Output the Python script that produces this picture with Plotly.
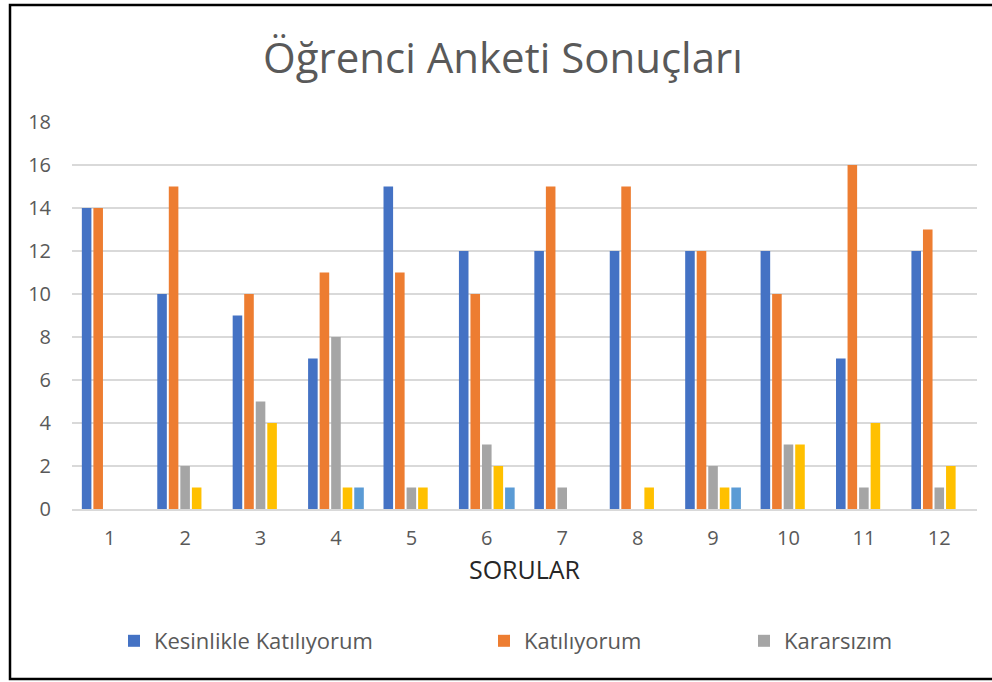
import plotly.graph_objects as go

categories = ["1", "2", "3", "4", "5", "6", "7", "8", "9", "10", "11", "12"]
kesinlikle_katiliyorum = [14, 10, 9, 7, 15, 12, 12, 12, 12, 12, 7, 12]
katiliyorum = [14, 15, 10, 11, 11, 10, 15, 15, 12, 10, 16, 13]
kararsizim = [0, 2, 5, 8, 1, 3, 1, 0, 2, 3, 1, 1]
katilmiyorum = [0, 1, 4, 1, 1, 2, 0, 1, 1, 3, 4, 2]
kesinlikle_katilmiyorum = [0, 0, 0, 1, 0, 1, 0, 0, 1, 0, 0, 0]
y_ticks = [0, 2, 4, 6, 8, 10, 12, 14, 16, 18]

FONT = "Open Sans"
series = [
    ("Kesinlikle Katılıyorum", kesinlikle_katiliyorum, "#4472C4", "legend", True),
    ("Katılıyorum", katiliyorum, "#ED7D31", "legend2", True),
    ("Kararsızım", kararsizim, "#A5A5A5", "legend3", True),
    ("Katılmıyorum", katilmiyorum, "#FFC000", "legend", False),
    ("Kesinlikle Katılmıyorum", kesinlikle_katilmiyorum, "#5B9BD5", "legend", False),
]

fig = go.Figure()
for name, vals, color, lg, show in series:
    fig.add_trace(go.Bar(x=categories, y=vals, name=name, marker_color=color,
                         marker_line_width=0, legend=lg, showlegend=show))

L, R, T, B = 72, 977, 122, 509
W, H = 992, 682
pw, ph = R - L, B - T

def px(x):
    return (x - L) / pw

def py(y):
    return (B - y) / ph

legend_common = dict(orientation="h", yanchor="middle", xanchor="left",
                     font=dict(family=FONT, size=22, color="#595959"),
                     bgcolor="rgba(0,0,0,0)", itemwidth=30)

fig.update_layout(
    width=W, height=H,
    margin=dict(l=L, r=W - R, t=T, b=H - B),
    paper_bgcolor="white", plot_bgcolor="white",
    barmode="group", bargap=0.235, bargroupgap=0.17,
    title=dict(text="Öğrenci Anketi Sonuçları", x=0.507, xanchor="center",
               y=1 - 58 / H, yanchor="middle",
               font=dict(family=FONT, size=42, color="#595959")),
    xaxis=dict(type="category", showgrid=False, zeroline=False,
               showline=True, linecolor="#D9D9D9", linewidth=1.5,
               tickfont=dict(family=FONT, size=20, color="#595959"),
               ticks="", ticklabelstandoff=10,
               title=dict(text="SORULAR", standoff=12,
                          font=dict(family=FONT, size=25, color="#262626"))),
    yaxis=dict(range=[0, 18], tickvals=y_ticks, showgrid=True,
               gridcolor="#D9D9D9", gridwidth=1.5, zeroline=False, showline=False,
               tickfont=dict(family=FONT, size=20, color="#595959"),
               ticks="", ticklabelstandoff=20),
    legend=dict(x=px(114), y=py(641), **legend_common),
    legend2=dict(x=px(484), y=py(641), **legend_common),
    legend3=dict(x=px(744), y=py(641), **legend_common),
    shapes=[dict(type="rect", xref="paper", yref="paper",
                 x0=px(10), x1=px(1000), y0=py(679), y1=py(5),
                 line=dict(color="black", width=2.5), fillcolor="rgba(0,0,0,0)",
                 layer="above")],
)

fig.write_html("out.html", config={"displayModeBar": False},
               post_script="document.body.style.margin='0';")
